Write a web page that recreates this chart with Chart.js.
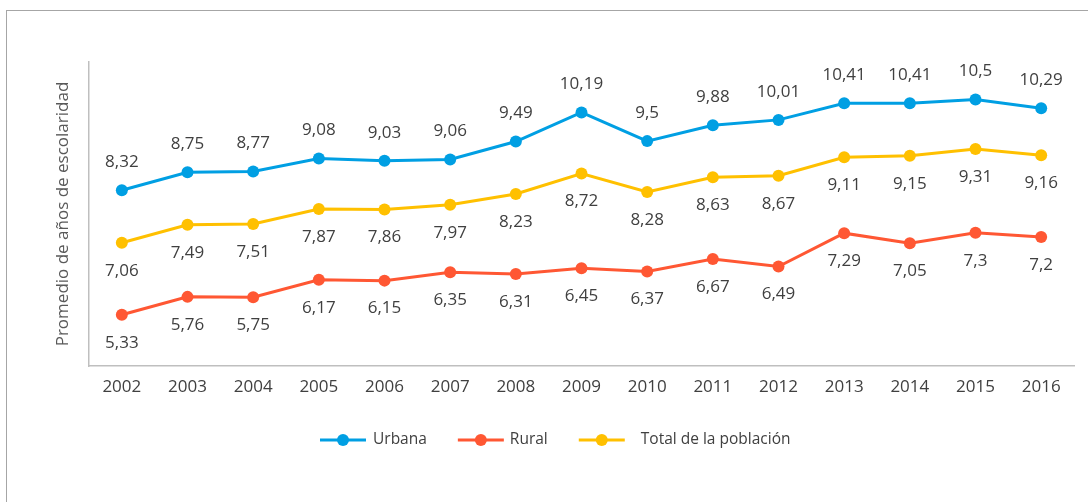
<!DOCTYPE html>
<html>
<head>
<meta charset="utf-8">
<script src="https://cdn.jsdelivr.net/npm/chart.js@4.4.0/dist/chart.umd.min.js"></script>
<style>
  html, body { margin: 0; padding: 0; background: #fff; }
  #wrap { width: 1088px; height: 502px; position: relative; }
</style>
</head>
<body>
<div id="wrap"><canvas id="myChart" width="1088" height="502"></canvas></div>
<script>
let years = ['2002', '2003', '2004', '2005', '2006', '2007', '2008', '2009', '2010', '2011', '2012', '2013', '2014', '2015', '2016'];
let urbana = [8.32, 8.75, 8.77, 9.08, 9.03, 9.06, 9.49, 10.19, 9.5, 9.88, 10.01, 10.41, 10.41, 10.5, 10.29];
let rural = [5.33, 5.76, 5.75, 6.17, 6.15, 6.35, 6.31, 6.45, 6.37, 6.67, 6.49, 7.29, 7.05, 7.3, 7.2];
let total = [7.06, 7.49, 7.51, 7.87, 7.86, 7.97, 8.23, 8.72, 8.28, 8.63, 8.67, 9.11, 9.15, 9.31, 9.16];
let seriesNames = ['Urbana', 'Rural', 'Total de la población'];
let colorHex = ['#009fe3', '#ff5733', '#ffc000'];

const FONT = "'Open Sans', 'Noto Sans', sans-serif";
const TEXT = '#404040';

// frame around the figure
const framePlugin = {
    id: 'frame',
    beforeDraw(chart) {
        const c = chart.ctx;
        c.save();
        c.strokeStyle = '#a6a6a6';
        c.lineWidth = 1;
        c.strokeRect(6.5, 10.5, 1200, 600);
        c.restore();
    }
};

// value labels: above for Urbana, below for the others
const valueLabels = {
    id: 'valueLabels',
    afterDatasetsDraw(chart) {
        const c = chart.ctx;
        c.save();
        c.font = '17px ' + FONT;
        c.fillStyle = TEXT;
        c.textAlign = 'center';
        c.textBaseline = 'middle';
        chart.data.datasets.forEach((ds, i) => {
            const meta = chart.getDatasetMeta(i);
            meta.data.forEach((pt, j) => {
                const txt = String(ds.data[j]).replace('.', ',');
                const dy = i === 0 ? -28 : 28;
                c.fillText(txt, pt.x, pt.y + dy);
            });
        });
        c.restore();
    }
};

// legend with line + dot markers
const lineLegend = {
    id: 'lineLegend',
    afterDraw(chart) {
        const c = chart.ctx;
        const y = 440;
        const gaps = [7, 6, 16];
        let x = 320;
        c.save();
        c.font = '15.5px ' + FONT;
        c.textBaseline = 'middle';
        chart.data.datasets.forEach((ds, i) => {
            c.strokeStyle = ds.borderColor;
            c.lineWidth = 3;
            c.beginPath();
            c.moveTo(x, y);
            c.lineTo(x + 46, y);
            c.stroke();
            c.fillStyle = ds.borderColor;
            c.beginPath();
            c.arc(x + 23, y, 6, 0, Math.PI * 2);
            c.fill();
            x += 46 + gaps[i];
            c.fillStyle = TEXT;
            c.fillText(ds.label, x, y);
            x += c.measureText(ds.label).width + 31;
        });
        c.restore();
    }
};

let ctx = document.getElementById('myChart').getContext('2d');
let myChart = new Chart(ctx, {
    type: 'line',
    data: {
        labels: years,
        datasets: [urbana, rural, total].map((d, i) => ({
            label: seriesNames[i],
            data: d,
            borderColor: colorHex[i],
            backgroundColor: colorHex[i],
            borderWidth: 3,
            pointRadius: 6,
            pointHoverRadius: 6,
            pointBorderWidth: 0,
            tension: 0
        }))
    },
    options: {
        responsive: false,
        animation: false,
        layout: { padding: { left: 0, top: 62, right: 14, bottom: 0 } },
        plugins: {
            legend: { display: false },
            tooltip: { enabled: false }
        },
        scales: {
            x: {
                offset: true,
                grid: { display: false, drawTicks: false },
                border: { display: true, color: '#bfbfbf', width: 1.5 },
                ticks: { color: TEXT, font: { family: FONT, size: 17 }, padding: 11, maxRotation: 0, autoSkip: false },
                afterFit: (s) => { s.height = 136; }
            },
            y: {
                min: 4.1,
                max: 11.4,
                grid: { display: false, drawTicks: false },
                border: { display: true, color: '#bfbfbf', width: 1.5 },
                ticks: { display: false },
                title: {
                    display: true,
                    text: 'Promedio de años de escolaridad',
                    color: '#595959',
                    font: { family: FONT, size: 17 },
                    padding: { top: 53, bottom: 0 }
                },
                afterFit: (s) => { s.width = 89; }
            }
        }
    },
    plugins: [framePlugin, valueLabels, lineLegend]
});
</script>
</body>
</html>
